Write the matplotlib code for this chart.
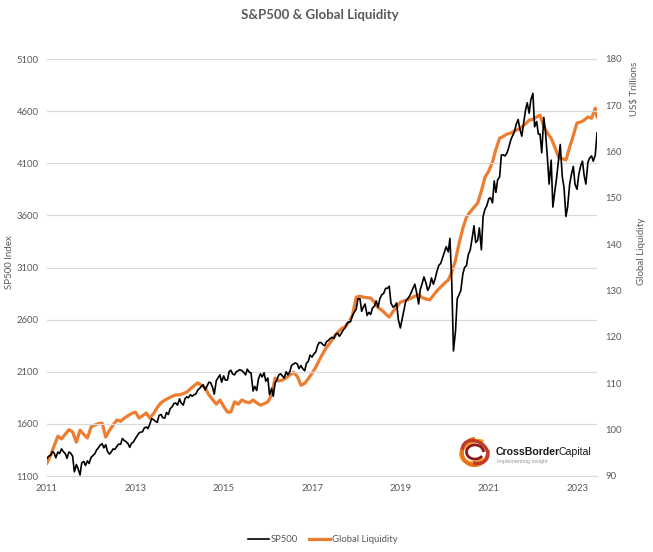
import numpy as np
import pandas as pd
import matplotlib
matplotlib.use("Agg")
import matplotlib.pyplot as plt
import matplotlib.dates as mdates
from matplotlib.patches import Arc

plt.rcParams['font.family'] = ['Lato', 'DejaVu Sans']

# S&P500, semi-monthly (1st and 15th), Jan 2011 - Jun 2023
sp500 = [
    1270, 1290, 1300, 1335, 1320, 1275, 1330, 1315, 1360, 1335, 1315, 1270, 1330, 1320, 1290, 1140, 1210, 1170, 1110, 1225, 1240, 1200, 1245, 1220,
    1280, 1295, 1315, 1350, 1370, 1395, 1410, 1370, 1400, 1335, 1310, 1330, 1360, 1355, 1385, 1405, 1405, 1460, 1440, 1430, 1410, 1375, 1415, 1425,
    1460, 1485, 1515, 1520, 1525, 1560, 1570, 1555, 1600, 1650, 1640, 1625, 1615, 1680, 1690, 1660, 1655, 1710, 1690, 1745, 1765, 1795, 1800, 1780,
    1840, 1800, 1780, 1840, 1860, 1850, 1880, 1865, 1880, 1885, 1925, 1940, 1960, 1975, 1925, 1960, 2000, 1995, 1950, 1885, 2015, 2040, 2070, 2000,
    2060, 2020, 2020, 2100, 2115, 2080, 2070, 2100, 2110, 2120, 2110, 2095, 2070, 2125, 2095, 2090, 1915, 1960, 1920, 2030, 2080, 2050, 2090, 2010,
    2040, 1880, 1940, 1865, 1990, 2020, 2070, 2080, 2060, 2040, 2100, 2070, 2100, 2160, 2175, 2185, 2175, 2130, 2160, 2130, 2110, 2180, 2200, 2260,
    2240, 2270, 2290, 2350, 2380, 2380, 2360, 2350, 2390, 2400, 2420, 2430, 2420, 2460, 2470, 2440, 2470, 2500, 2520, 2560, 2580, 2580, 2640, 2670,
    2700, 2800, 2800, 2680, 2720, 2750, 2640, 2670, 2650, 2710, 2730, 2780, 2720, 2800, 2840, 2850, 2900, 2900, 2920, 2760, 2720, 2730, 2760, 2600,
    2520, 2600, 2700, 2780, 2800, 2820, 2860, 2900, 2940, 2860, 2750, 2890, 2950, 3010, 2950, 2880, 2920, 3000, 2940, 2990, 3070, 3120, 3140, 3190,
    3250, 3300, 3250, 3380, 2960, 2300, 2490, 2800, 2840, 2880, 3040, 3100, 3120, 3220, 3270, 3370, 3500, 3340, 3360, 3480, 3270, 3590, 3660, 3690,
    3760, 3770, 3720, 3930, 3820, 3940, 3970, 4180, 4180, 4170, 4200, 4250, 4320, 4360, 4400, 4470, 4520, 4430, 4360, 4470, 4610, 4680, 4580, 4710,
    4770, 4450, 4500, 4380, 4380, 4200, 4540, 4400, 4150, 3900, 4130, 3680, 3830, 3950, 4130, 4280, 3970, 3870, 3590, 3680, 3900, 3990, 4070, 3900,
    3850, 3990, 4080, 4120, 3980, 3900, 4110, 4150, 4170, 4120, 4180, 4390,
]

# Global liquidity, US$ trillions, monthly Jan 2011 - Jun 2023 (+ mid-June)
liquidity = [
    92.8, 94.5, 96.5, 98.6, 98.0, 99.0, 100.0, 99.5, 97.3, 99.9, 99.0, 98.2,
    100.6, 101.0, 101.3, 101.4, 98.4, 99.9, 101.0, 102.1, 101.8, 102.5, 103.0, 103.5,
    103.8, 102.5, 103.0, 103.6, 102.5, 103.5, 104.8, 105.8, 106.4, 106.8, 107.2, 107.5,
    107.5, 107.8, 108.1, 108.8, 109.5, 110.1, 109.6, 109.0, 107.5, 106.5, 105.5, 106.4,
    105.0, 103.8, 103.8, 106.0, 105.5, 106.4, 106.0, 105.8, 106.4, 105.8, 105.3, 105.6,
    106.0, 107.5, 111.1, 110.5, 110.7, 111.2, 111.8, 112.4, 111.5, 109.6, 110.0, 111.0,
    112.2, 113.5, 115.0, 116.5, 117.8, 118.8, 120.0, 121.0, 121.8, 122.2, 123.2, 124.7,
    128.6, 128.8, 128.6, 128.5, 128.4, 127.5, 126.3, 125.8, 125.0, 124.3, 125.5, 126.5,
    127.5, 127.8, 128.0, 128.4, 128.8, 129.1, 128.5, 128.2, 128.0, 129.0, 130.0, 130.8,
    131.6, 132.3, 134.0, 136.6, 140.3, 143.5, 145.9, 147.0, 148.0, 148.9, 151.5, 154.5,
    155.8, 157.8, 160.5, 162.9, 163.3, 163.8, 164.0, 164.5, 164.8, 165.3, 166.0, 166.8,
    167.0, 167.5, 167.9, 165.5, 164.0, 162.9, 161.0, 158.8, 158.5, 158.2, 161.0, 163.5,
    166.2, 166.4, 166.8, 167.5, 167.2, 169.4, 167.5,
]

sp_dates = pd.date_range("2011-01-01", periods=len(sp500), freq="SMS")
liq_dates = list(pd.date_range("2011-01-01", periods=len(liquidity) - 1, freq="MS")) + [sp_dates[-1]]

year_ticks = [pd.Timestamp(f"{y}-01-01") for y in range(2011, 2024, 2)]
left_ticks = [1100, 1600, 2100, 2600, 3100, 3600, 4100, 4600, 5100]
right_ticks = [90, 100, 110, 120, 130, 140, 150, 160, 170, 180]

grey = "#595959"
orange = "#ED7D31"

fig = plt.figure(figsize=(6.53, 5.52), dpi=100)
ax = fig.add_axes([47 / 653, 1 - 476 / 552, 550 / 653, 417 / 552])
ax2 = ax.twinx()

ax.plot(sp_dates, sp500, color="black", lw=1.2, label="SP500", zorder=3)
ax2.plot(liq_dates, liquidity, color=orange, lw=2.3, label="Global Liquidity")
ax.set_zorder(ax2.get_zorder() + 1)
ax.patch.set_visible(False)

ax.set_ylim(1100, 5100)
ax.set_yticks(left_ticks)
ax2.set_ylim(90, 180)
ax2.set_yticks(right_ticks)
ax.set_xlim(pd.Timestamp("2011-01-01"), sp_dates[-1])
ax.set_xticks(year_ticks)
ax.xaxis.set_major_formatter(mdates.DateFormatter("%Y"))

ax.grid(axis="y", color="#D9D9D9", lw=0.9)
ax.set_axisbelow(True)
for a in (ax, ax2):
    for s in a.spines.values():
        s.set_visible(False)
    a.tick_params(length=0, labelsize=6.8, colors=grey, pad=6)
ax.spines["bottom"].set_visible(True)
ax.spines["bottom"].set_color("#D9D9D9")

fig.text(10 / 653, 1 - 262 / 552, "SP500 Index", rotation=90, fontsize=7,
         color=grey, ha="center", va="center")
fig.text(642 / 653, 1 - 251 / 552, "Global Liquidity", rotation=90, fontsize=7,
         color=grey, ha="center", va="center")
fig.text(635 / 653, 1 - 89 / 552, "US$ Trillions", rotation=90, fontsize=7,
         color=grey, ha="center", va="center")

fig.suptitle("S&P500 & Global Liquidity", x=320 / 653, y=1 - 15 / 552, va="center",
             fontsize=9.5, fontweight="bold", color=grey)

h1, l1 = ax.get_legend_handles_labels()
h2, l2 = ax2.get_legend_handles_labels()
fig.legend(h1 + h2, l1 + l2, loc="center", bbox_to_anchor=(323 / 653, 1 - 540 / 552),
           ncol=2, frameon=False, fontsize=6.8, handlelength=2.2, handletextpad=0.2,
           columnspacing=1.2, labelcolor=grey)

# logo
lax = fig.add_axes([458 / 653, 1 - 470 / 552, 34 / 653, 36 / 552])
lax.set_xlim(-1.2, 1.2)
lax.set_ylim(-1.2, 1.2)
lax.set_aspect("equal")
lax.axis("off")
for (w, hgt, ang, t1, t2, col, lw) in [
    (2.0, 1.5, 20, 30, 300, "#F5A623", 3.0),
    (1.8, 1.9, -30, 120, 400, "#E8731C", 2.6),
    (1.5, 1.9, 60, 200, 470, "#C0392B", 2.4),
    (1.2, 1.0, 0, 0, 330, "#8B1A1A", 2.0),
]:
    lax.add_patch(Arc((0, 0), w, hgt, angle=ang, theta1=t1, theta2=t2, color=col, lw=lw))

logo_font = ["Liberation Sans", "DejaVu Sans"]
t1 = fig.text(496 / 653, 1 - 452 / 552, "CrossBorder", fontsize=7.6, fontweight="bold",
              color="#1a1a1a", va="center", family=logo_font)
fig.canvas.draw()
bb = t1.get_window_extent()
fig.text((bb.x1 - 2) / 653, 1 - 452 / 552, "Capital", fontsize=7.6, color="#1a1a1a", va="center",
         family=logo_font)
fig.text(497 / 653, 1 - 461 / 552, "Implementing insight", fontsize=4, color="#999999",
         va="center", family=logo_font)

fig.savefig("out.png", dpi=100)
